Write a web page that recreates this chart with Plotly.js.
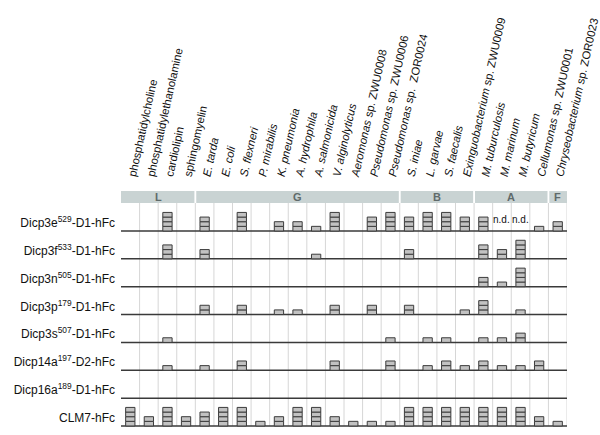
<!DOCTYPE html>
<html>
<head>
<meta charset="utf-8">
<script src="https://cdn.plot.ly/plotly-3.0.1.min.js"></script>
<style>html,body{margin:0;padding:0;background:#fff;}#chart{width:600px;height:435px;}</style>
</head>
<body>
<div id="chart"></div>
<script>
// ---- data ----
const columns = [
  'phosphatidylcholine', 'phosphatidylethanolamine', 'cardiolipin', 'sphingomyelin',
  '<i>E. tarda</i>', '<i>E. coli</i>', '<i>S. flexneri</i>', '<i>P. mirabilis</i>', '<i>K. pneumonia</i>',
  '<i>A. hydrophila</i>', '<i>A. salmonicida</i>', '<i>V. alginolyticus</i>', '<i>Aeromonas</i> sp. ZWU0008',
  '<i>Pseudomonas</i> sp. ZWU0006', '<i>Pseudomonas</i> sp.  ZOR0024',
  '<i>S. iniae</i>', '<i>L. garvae</i>', '<i>S. faecalis</i>', '<i>Exinguobacterium</i> sp. ZWU0009',
  '<i>M. tuburculosis</i>', '<i>M. marinum</i>', '<i>M. butyricum</i>', '<i>Cellumonas</i> sp. ZWU0001',
  '<i>Chryseobacterium</i> sp. ZOR0023'
];
const groups = ['L', 'G', 'B', 'A', 'F'];
const groupSizes = [4, 11, 4, 4, 1];
const rowLabels = [
  'Dicp3e<sup>529</sup>-D1-hFc', 'Dicp3f<sup>533</sup>-D1-hFc', 'Dicp3n<sup>505</sup>-D1-hFc',
  'Dicp3p<sup>179</sup>-D1-hFc', 'Dicp3s<sup>507</sup>-D1-hFc', 'Dicp14a<sup>197</sup>-D2-hFc',
  'Dicp16a<sup>189</sup>-D1-hFc', 'CLM7-hFc'
];
// binding levels (null = n.d.)
const dicp3e  = [0,0,4,0, 3,0,4,0,2,2,1,4,0,3,4, 3,4,4,3, 3,null,null,1, 2];
const dicp3f  = [0,0,3,0, 2,0,0,0,0,0,1,0,0,0,0, 2,0,0,0, 3,2,4,0, 0];
const dicp3n  = [0,0,0,0, 0,0,0,0,0,0,0,0,0,0,0, 0,0,0,0, 2,1,4,0, 0];
const dicp3p  = [0,0,0,0, 2,0,2,0,1,1,0,2,0,2,0, 2,0,0,1, 3,0,1,0, 0];
const dicp3s  = [0,0,1,0, 0,0,0,0,0,0,0,0,0,0,1, 0,1,1,0, 1,1,2,0, 0];
const dicp14a = [0,0,1,0, 1,0,2,0,0,0,0,2,0,0,2, 0,1,2,1, 2,1,1,2, 0];
const dicp16a = [0,0,0,0, 0,0,0,0,0,0,0,0,0,0,0, 0,0,0,0, 0,0,0,0, 0];
const clm7    = [4,2,4,2, 3,4,4,1,2,4,4,2,1,1,1, 4,4,4,4, 4,4,4,2, 1];

// ---- build ----
const rows = [dicp3e, dicp3f, dicp3n, dicp3p, dicp3s, dicp14a, dicp16a, clm7];
const ROW = 6;
const nCol = columns.length;
const colIdx = columns.map((c, i) => i);
const FONT = 'Liberation Sans, Arial, sans-serif';

const bx = [], by = [], bbase = [];
const annotations = [];
rows.forEach((vals, r) => {
  vals.forEach((v, c) => {
    if (v === null) {
      annotations.push({x: c, y: -r * ROW + 2.4, xref: 'x', yref: 'y', text: 'n.d.', showarrow: false,
        font: {family: FONT, size: 10, color: '#111'}});
      return;
    }
    for (let k = 0; k < v; k++) { bx.push(c); by.push(1); bbase.push(-r * ROW + k); }
  });
});

const shapes = [];
// vertical grid lines
for (let i = 0; i < nCol; i++) {
  shapes.push({type: 'line', xref: 'x', yref: 'y', x0: i + 0.5, x1: i + 0.5, y0: -(rows.length - 1) * ROW, y1: 6.03,
    line: {color: '#d6d6d6', width: 1}, layer: 'below'});
}
// baselines
rows.forEach((v, r) => {
  shapes.push({type: 'line', xref: 'x', yref: 'y', x0: -0.5, x1: nCol - 0.5, y0: -r * ROW, y1: -r * ROW,
    line: {color: '#3a3a3a', width: 1.5}, layer: 'below'});
});
// group bands
let start = 0;
groups.forEach((g, gi) => {
  const end = start + groupSizes[gi];
  shapes.push({type: 'rect', xref: 'x', yref: 'y', x0: start - 0.5 + (gi ? 0.05 : 0), x1: end - 0.5 - (gi < groups.length - 1 ? 0.05 : 0),
    y0: 6.03, y1: 8.6, fillcolor: '#c9d3d3', line: {width: 0}, layer: 'below'});
  annotations.push({x: (start + end - 1) / 2, y: 7.3, xref: 'x', yref: 'y', text: '<b>' + g + '</b>', showarrow: false,
    font: {family: FONT, size: 11, color: '#5f6a6a'}});
  start = end;
});

const trace = {
  type: 'bar', x: bx, y: by, base: bbase, width: 0.5,
  marker: {color: '#c2c2c2', line: {color: '#3c3c3c', width: 1}},
  hoverinfo: 'skip'
};

const layout = {
  width: 600, height: 435,
  margin: {l: 121, r: 33, t: 191, b: 6, pad: 0},
  paper_bgcolor: '#fff', plot_bgcolor: '#fff',
  showlegend: false, hovermode: false,
  font: {family: FONT, size: 11.5, color: '#111'},
  xaxis: {
    range: [-0.5, nCol - 0.5], side: 'top', tickmode: 'array', tickvals: colIdx, ticktext: columns,
    tickangle: -77.5, ticks: '', showgrid: false, zeroline: false, showline: false, fixedrange: true,
    automargin: false, ticklabelstandoff: 6, ticklabeloverflow: 'allow',
    tickfont: {family: FONT, size: 11.3, color: '#111'}
  },
  yaxis: {
    range: [-42.65, 8.615], tickmode: 'array', tickvals: rows.map((v, r) => -r * ROW + 1.75), ticktext: rowLabels,
    ticks: '', showgrid: false, zeroline: false, showline: false, fixedrange: true, automargin: false,
    ticklabelstandoff: 5, ticklabeloverflow: 'allow',
    tickfont: {family: FONT, size: 12, color: '#111'}
  },
  shapes: shapes,
  annotations: annotations
};

Plotly.newPlot('chart', [trace], layout, {displayModeBar: false, staticPlot: true});
</script>
</body>
</html>
